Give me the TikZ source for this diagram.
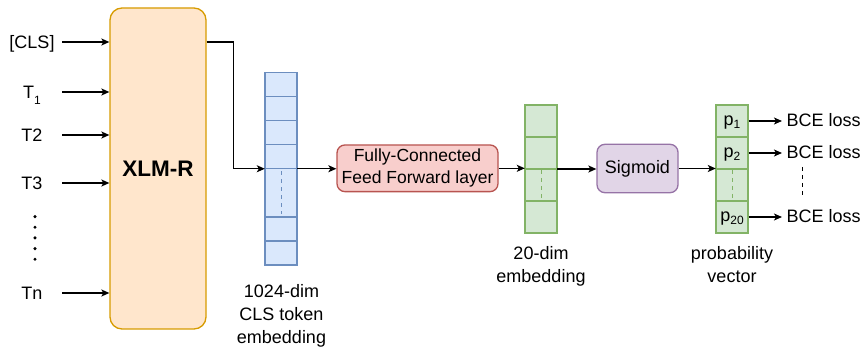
\documentclass[tikz,border=0pt]{standalone}
\usepackage{fontspec}
\setmainfont{Liberation Sans}
\usetikzlibrary{arrows.meta}
\definecolor{orF}{HTML}{FFE6CC}\definecolor{orD}{HTML}{D79B00}
\definecolor{blF}{HTML}{DAE8FC}\definecolor{blD}{HTML}{6C8EBF}
\definecolor{rdF}{HTML}{F8CECC}\definecolor{rdD}{HTML}{B85450}
\definecolor{grF}{HTML}{D5E8D4}\definecolor{grD}{HTML}{82B366}
\definecolor{puF}{HTML}{E1D5E7}\definecolor{puD}{HTML}{9673A6}
\newcommand{\subT}[1]{\raisebox{-6pt}{\fontsize{12}{12}\selectfont #1}}
\newcommand{\subP}[1]{\raisebox{-3pt}{\fontsize{12}{12}\selectfont #1}}
\tikzset{
  arr/.style={line width=1.3pt,-{Stealth[length=8pt,width=7pt,inset=2pt]}},
  inlabel/.style={inner sep=0pt,minimum width=60pt,text height=12.5pt,text depth=0pt},
  bce/.style={anchor=west,inner xsep=4.5pt,inner ysep=0pt,text height=12.5pt,text depth=0pt},
  bcell/.style={draw=blD,fill=blF,line width=1.3pt,minimum width=32pt,inner sep=0pt},
  gcell/.style={draw=grD,fill=grF,line width=1.3pt,minimum width=32pt,minimum height=32pt,inner sep=0pt,text height=9pt,text depth=0pt},
  colbox/.style={minimum width=32pt,inner sep=0pt},
  undertext/.style={anchor=north,inner sep=0pt,align=center},
  cdash/.style={line width=1pt,dash pattern=on 4pt off 4pt},
}
\begin{document}
\begin{tikzpicture}[x=1pt,y=-1pt,font=\fontsize{18}{23}\selectfont]
\useasboundingbox (0,0) rectangle (865,347);

% XLM-R
\node[draw=orD,fill=orF,line width=1.3pt,rounded corners=12pt,minimum width=96pt,minimum height=321pt,inner sep=0pt,font=\fontsize{22.5}{24}\bfseries\selectfont] (xlm) at (158,168.5) {XLM-R};

% inputs
\node[inlabel] (cls) at (32,42) {[CLS]};
\node[inlabel] (t1) at (32,92) {T\subT{1}};
\node[inlabel] (t2) at (32,135) {T2};
\node[inlabel] (t3) at (32,183) {T3};
\node[inlabel] (tn) at (32,293) {Tn};
\foreach \yy in {216.7,227.3,237.9,248.6,259.3} \fill (35,\yy) circle (1.7pt);
\foreach \n in {cls,t1,t2,t3,tn} \draw[arr] (\n.east) -- (\n.east -| xlm.west);

% blue column
\node[colbox,minimum height=192.5pt] (blue) at (281,168.75) {};
\node[bcell,minimum height=24pt] (b1) at (281,84.5) {};
\node[bcell,minimum height=24pt] (b2) at (281,108.5) {};
\node[bcell,minimum height=24pt] (b3) at (281,132.5) {};
\node[bcell,minimum height=24pt] (b4) at (281,156.5) {};
\node[bcell,minimum height=48.5pt] (b5) at (281,192.75) {};
\node[bcell,minimum height=24pt] (b6) at (281,229) {};
\node[bcell,minimum height=24pt] (b7) at (281,253) {};
\draw[cdash,draw=blD] ([yshift=-3.5pt]b5.north) -- ([yshift=4pt]b5.south);
\node[undertext] (bluelab) at (281.5,284.5) {1024-dim\\CLS token\\embedding};

\draw[arr] (cls.east -| xlm.east) -- ++(27,0) |- (blue.west);

% FC
\node[draw=rdD,fill=rdF,line width=1.3pt,rounded corners=8pt,minimum width=161pt,minimum height=46.7pt,inner sep=0pt,align=center,font=\fontsize{17.5}{22}\selectfont] (fc) at (417.5,168.3) {Fully-Connected\\Feed Forward layer};
\draw[arr] (blue.east) -- (blue.east -| fc.west);

% green column
\node[colbox,minimum height=128pt] (g) at (541,169) {};
\node[gcell] (g1) at (541,121) {};
\node[gcell] (g2) at (541,153) {};
\node[gcell] (g3) at (541,185) {};
\node[gcell] (g4) at (541,217) {};
\draw[cdash,draw=grD] ([yshift=-1.5pt]g3.north) -- ([yshift=1.5pt]g3.south);
\node[undertext] (glab) at (541,246.5) {20-dim\\embedding};
\draw[arr] (fc.east) -- (fc.east -| g.west);

% sigmoid
\node[draw=puD,fill=puF,line width=1.3pt,rounded corners=8pt,minimum width=81pt,minimum height=48.4pt,inner sep=0pt] (sig) at (637.5,168.5) {Sigmoid};
\draw[arr] (g.east) -- (g.east -| sig.west);

% probability column
\node[colbox,minimum height=128pt] (p) at (732,169) {};
\node[gcell] (p1) at (732,121) {p\subP{1}};
\node[gcell] (p2) at (732,153) {p\subP{2}};
\node[gcell] (p3) at (732,185) {};
\node[gcell] (p4) at (732,217) {p\subP{20}};
\draw[cdash,draw=grD] ([yshift=-1.5pt]p3.north) -- ([yshift=1.5pt]p3.south);
\node[undertext] (plab) at (732,246.5) {probability\\vector};
\draw[arr] (sig.east) -- (sig.east -| p.west);

% BCE
\node[bce] (l1) at (782,120.7) {BCE loss};
\node[bce] (l2) at (782,152.3) {BCE loss};
\node[bce] (l4) at (782,216.7) {BCE loss};
\draw[arr] (p1.east) -- (p1.east -| l1.west);
\draw[arr] (p2.east) -- (p2.east -| l2.west);
\draw[arr] (p4.east) -- (p4.east -| l4.west);
\draw[cdash] (802,167) -- (802,198);
\end{tikzpicture}
\end{document}
